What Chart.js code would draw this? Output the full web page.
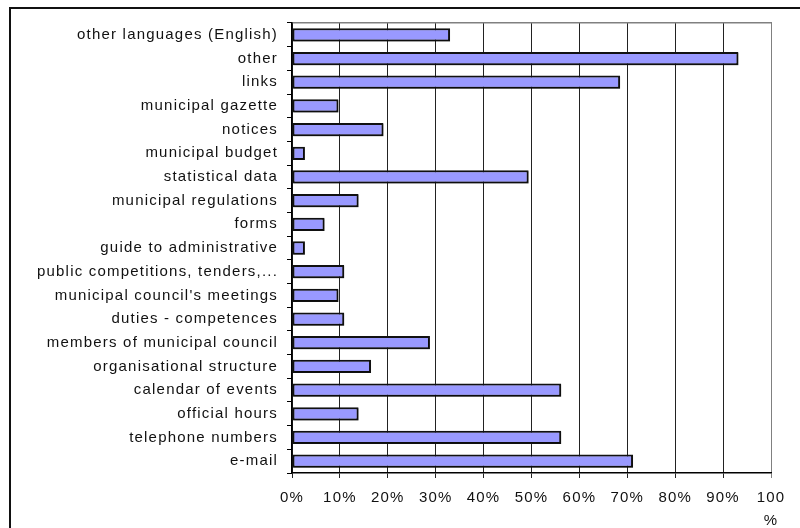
<!DOCTYPE html>
<html>
<head>
<meta charset="utf-8">
<script src="https://cdn.jsdelivr.net/npm/chart.js@4/dist/chart.umd.min.js"></script>
<style>
  html, body { margin: 0; padding: 0; background: #fff; }
  #wrap { position: relative; width: 800px; height: 528px; overflow: hidden; }
  #frame { position: absolute; left: 9px; top: 7px; width: 820px; height: 540px;
           border-top: 2px solid #111; border-left: 2px solid #111; box-sizing: border-box; }
  #chart { position: absolute; left: 0; top: 0; }
</style>
</head>
<body>
<div id="wrap">
  <div id="frame"></div>
  <canvas id="chart" width="800" height="528"></canvas>
</div>
<script>
// Share of municipal websites offering each kind of content (%)
const categories = [
    "other languages (English)",
    "other",
    "links",
    "municipal gazette",
    "notices",
    "municipal budget",
    "statistical data",
    "municipal regulations",
    "forms",
    "guide to administrative",
    "public competitions, tenders,...",
    "municipal council's meetings",
    "duties - competences",
    "members of municipal council",
    "organisational structure",
    "calendar of events",
    "official hours",
    "telephone numbers",
    "e-mail"
];
const shares = [33.0, 93.2, 68.5, 9.7, 19.1, 2.7, 49.4, 13.9, 6.8, 2.7,
                10.9, 9.7, 10.9, 28.8, 16.5, 56.2, 13.9, 56.2, 71.2];
const percentTicks = [0, 10, 20, 30, 40, 50, 60, 70, 80, 90, 100];

const barFill = '#9999ff';
const barEdge = '#111111';
const gridDark = '#222222';
const gridGray = '#808080';

// canvas text in the old spreadsheet look is slightly spaced out
const spacing = {
    id: 'spacing',
    beforeUpdate(chart) { chart.ctx.letterSpacing = '1.2px'; },
    beforeDraw(chart) { chart.ctx.letterSpacing = '1.2px'; }
};

// soft grey drop shadow under the bars
const barShadow = {
    id: 'barShadow',
    beforeDatasetsDraw(chart) {
        const ctx = chart.ctx;
        ctx.save();
        ctx.shadowColor = 'rgba(0,0,0,0.35)';
        ctx.shadowOffsetX = 1;
        ctx.shadowOffsetY = 1;
        ctx.shadowBlur = 0;
    },
    afterDatasetsDraw(chart) { chart.ctx.restore(); }
};

Chart.defaults.font.family = "'Liberation Sans'";
Chart.defaults.font.size = 15;
Chart.defaults.color = '#111';

new Chart(document.getElementById('chart'), {
    type: 'bar',
    data: {
        labels: categories,
        datasets: [{
            data: shares,
            backgroundColor: barFill,
            borderColor: barEdge,
            borderWidth: 2,
            borderSkipped: false,
            barPercentage: 0.56,
            categoryPercentage: 1.0
        }]
    },
    options: {
        indexAxis: 'y',
        responsive: false,
        animation: false,
        layout: { padding: { left: 0, right: 29, top: 23, bottom: 0 } },
        plugins: { legend: { display: false }, tooltip: { enabled: false } },
        scales: {
            x: {
                min: 0,
                max: 100,
                afterBuildTicks(scale) { scale.ticks = percentTicks.map(v => ({ value: v })); },
                afterFit(scale) { scale.height = 55; },
                ticks: {
                    padding: 9,
                    maxRotation: 0,
                    autoSkip: false,
                    font: { size: 15, lineHeight: 1.5 },
                    callback: v => v === 100 ? ['100', '%'] : v + '%'
                },
                grid: {
                    color: c => c.tick && c.tick.value === 100 ? gridGray : gridDark,
                    tickColor: c => c.tick && c.tick.value === 100 ? gridGray : gridDark,
                    tickLength: 5,
                    lineWidth: 1
                },
                border: { color: '#000', width: 1.5 }
            },
            xTop: {
                position: 'top',
                axis: 'x',
                min: 0,
                max: 100,
                afterFit(scale) { scale.height = 0; },
                ticks: { display: false },
                grid: { display: false },
                border: { color: gridGray, width: 1.5 }
            },
            y: {
                afterFit(scale) { scale.width = 292; },
                ticks: { padding: 9, autoSkip: false, font: { size: 15 } },
                grid: {
                    drawOnChartArea: false,
                    tickLength: 5,
                    color: '#000',
                    tickColor: '#000',
                    offset: true
                },
                border: { color: '#000', width: 1.5 }
            }
        }
    },
    plugins: [spacing, barShadow]
});
</script>
</body>
</html>
